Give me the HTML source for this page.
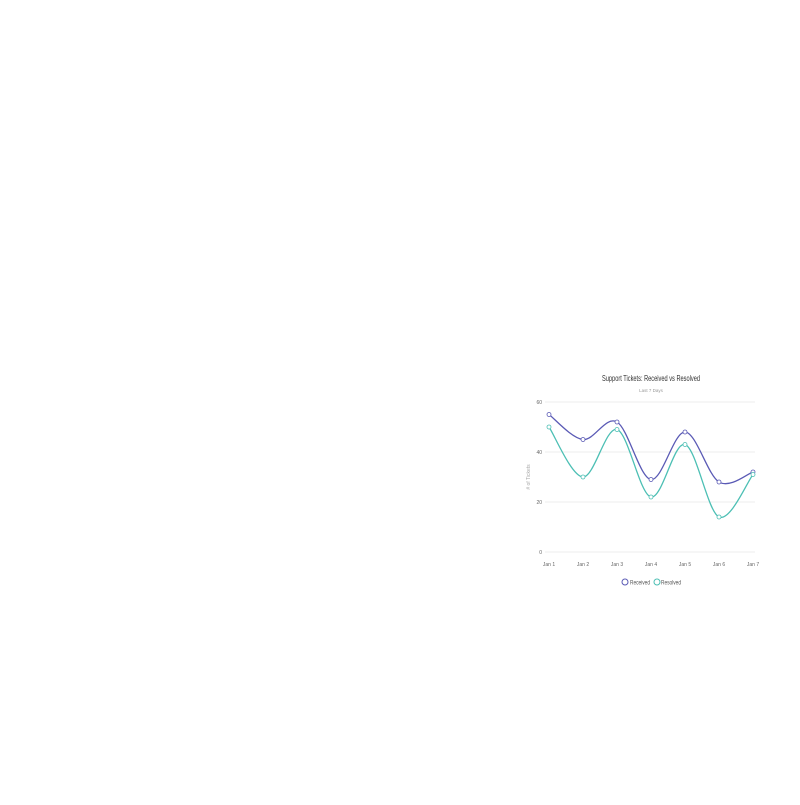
<!DOCTYPE html>
<html><head><meta charset="utf-8"><style>
body{margin:0;background:#fff;width:800px;height:800px;overflow:hidden;font-family:"Liberation Sans",sans-serif}
</style></head><body>
<svg width="800" height="800">
<text x="651" y="381" text-anchor="middle" font-size="8.5" fill="#333" textLength="98" lengthAdjust="spacingAndGlyphs">Support Tickets: Received vs Resolved</text>
<text x="651" y="392" text-anchor="middle" font-size="4.5" fill="#999">Last 7 Days</text>
<text transform="translate(530,477) rotate(-90)" text-anchor="middle" font-size="5" fill="#aaa"># of Tickets</text>
<g id="grid"></g><g id="lines"></g>
<g>
<circle cx="625" cy="582" r="3" fill="#fff" stroke="#5a5ab5"/>
<text x="630" y="584.5" font-size="6.5" fill="#555" textLength="20" lengthAdjust="spacingAndGlyphs">Received</text>
<circle cx="657" cy="582" r="3" fill="#fff" stroke="#4cbfb4"/>
<text x="661" y="584.5" font-size="6.5" fill="#555" textLength="20" lengthAdjust="spacingAndGlyphs">Resolved</text>
</g>
</svg>
<script>
const categories=["Jan 1","Jan 2","Jan 3","Jan 4","Jan 5","Jan 6","Jan 7"];
const received=[55,45,52,29,48,28,32];
const resolved=[50,30,49,22,43,14,31];
const yTicks=[0,20,40,60];
const ns="http://www.w3.org/2000/svg";
const x=i=>549+i*(204/(categories.length-1));
const y=v=>552-v*2.5;
const grid=document.getElementById('grid'),lines=document.getElementById('lines');
function mk(t,a,p){const e=document.createElementNS(ns,t);for(const k in a)e.setAttribute(k,a[k]);p.appendChild(e);return e;}
yTicks.forEach(t=>{
 const l=mk('line',{x1:545,x2:755,y1:y(t),y2:y(t),stroke:'#eee','stroke-width':1},grid);
 
 
 const tx=mk('text',{x:542,y:y(t)+2,'text-anchor':'end','font-size':5,fill:'#666'},grid);tx.textContent=t;
 
 
});
categories.forEach((c,i)=>{
 const tx=mk('text',{x:x(i),y:566,'text-anchor':'middle','font-size':5,fill:'#666'},grid);tx.textContent=c;
 
 
});
function path(vals){
 const p=vals.map((v,i)=>[x(i),y(v)]);let d=`M${p[0][0]},${p[0][1]}`;
 for(let i=0;i<p.length-1;i++){const p0=p[i-1]||p[i],p1=p[i],p2=p[i+1],p3=p[i+2]||p2;
  d+=` C${p1[0]+(p2[0]-p0[0])/6},${p1[1]+(p2[1]-p0[1])/6} ${p2[0]-(p3[0]-p1[0])/6},${p2[1]-(p3[1]-p1[1])/6} ${p2[0]},${p2[1]}`;}
 return d;
}
[[received,'#5a5ab5','received'],[resolved,'#4cbfb4','resolved']].forEach(([vals,col,nm])=>{
 const pa=mk('path',{d:path(vals),fill:'none',stroke:col,'stroke-width':1.3},lines);
 
 
 vals.forEach((v,i)=>{const c=mk('circle',{cx:x(i),cy:y(v),r:2,fill:'#fff',stroke:col,'stroke-width':0.8},lines);
  
  });
});
</script>
</body></html>
